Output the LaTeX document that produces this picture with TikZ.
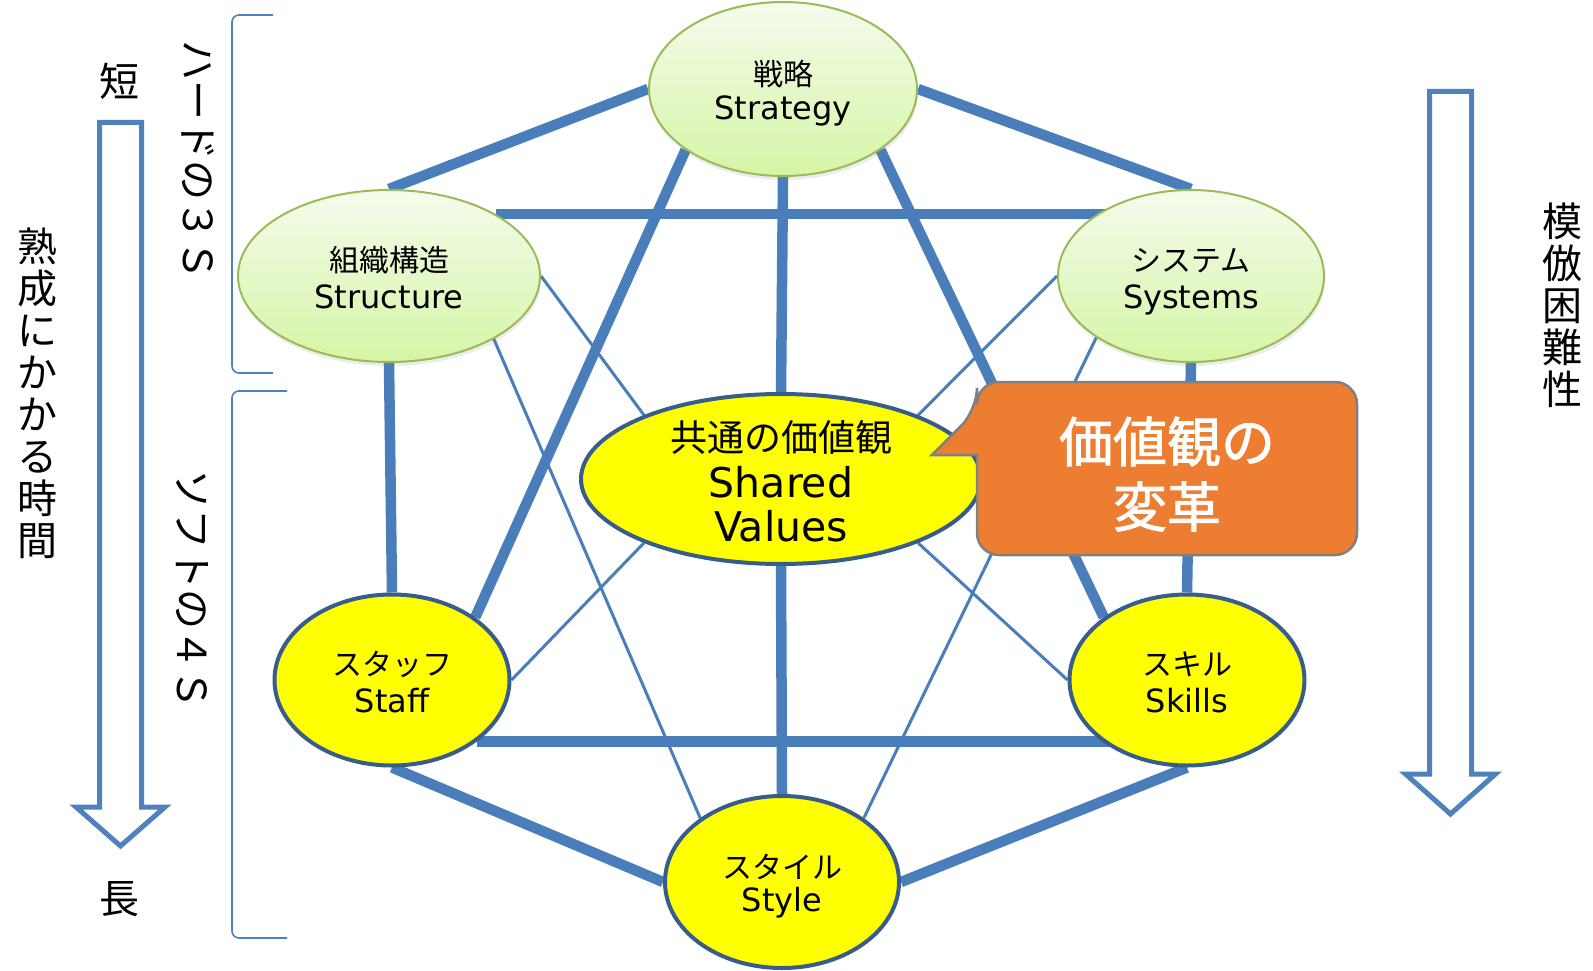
\documentclass[tikz,border=0pt]{standalone}
\usepackage{fontspec}
\setmainfont{DejaVu Sans}
\newfontfamily\jp{Noto Sans CJK JP}
\newfontfamily\jpheavy[FakeBold=1.6]{Noto Sans CJK JP}
\usetikzlibrary{shapes.geometric,shadows}
\pgfdeclarelayer{bg}
\pgfsetlayers{bg,main}
\definecolor{linkblue}{RGB}{74,126,187}
\definecolor{arrowblue}{RGB}{79,129,189}
\definecolor{hardedge}{RGB}{155,187,89}
\definecolor{hardtop}{RGB}{245,251,236}
\definecolor{hardbot}{RGB}{214,245,166}
\definecolor{softedge}{RGB}{56,93,138}
\definecolor{softfill}{RGB}{255,255,0}
\definecolor{calloutfill}{RGB}{237,125,49}
\definecolor{calloutedge}{RGB}{128,128,128}
\begin{document}
\begin{tikzpicture}[x=1pt,y=-1pt,
  hard/.style={ellipse, draw=hardedge, line width=2pt, top color=hardtop, bottom color=hardbot,
    inner sep=0pt, drop shadow={shadow xshift=1pt, shadow yshift=-4pt, opacity=0.15}},
  soft/.style={ellipse, draw=softedge, line width=4pt, fill=softfill, inner sep=0pt},
  jplbl/.style={anchor=base, inner sep=0pt, font=\jp\fontsize{30}{35}\selectfont},
  enlbl/.style={anchor=base, inner sep=0pt, font=\fontsize{32}{36}\selectfont},
  sidelbl/.style={inner sep=0pt, align=center, font=\jp\fontsize{40}{42}\selectfont},
  thicklink/.style={draw=linkblue, line width=10.5pt},
  thinlink/.style={draw=linkblue, line width=3pt},
  blockarrow/.style={draw=arrowblue, line width=5pt, fill=white, miter limit=10},
  bracket/.style={draw=arrowblue, line width=1.6pt, rounded corners=7pt},
  callout/.style={draw=calloutedge, line width=2.5pt, fill=calloutfill},
  callouttext/.style={anchor=base, inner sep=0pt, text=white, font=\jpheavy\fontsize{54}{60}\selectfont}
]
\useasboundingbox (0,0) rectangle (1593,971);

% the seven elements
\node[hard, minimum width=268pt, minimum height=174pt] (strategy) at (783,89) {};
\node[hard, minimum width=302pt, minimum height=172pt] (structure) at (389,276) {};
\node[hard, minimum width=266pt, minimum height=172pt] (systems) at (1191,276) {};
\node[soft, minimum width=400pt, minimum height=170pt] (shared) at (781,479) {};
\node[soft, minimum width=235pt, minimum height=171pt] (staff) at (392,680) {};
\node[soft, minimum width=235pt, minimum height=171pt] (skills) at (1187,680) {};
\node[soft, minimum width=234pt, minimum height=172pt] (style) at (782,882) {};

% element labels
\node[jplbl] (strategy-jp) at (783,86) {戦略};
\node[enlbl] (strategy-en) at (783,120) {Strategy};
\node[jplbl] (structure-jp) at (389,271) {組織構造};
\node[enlbl] (structure-en) at (389,308) {Structure};
\node[jplbl] (systems-jp) at (1191,271) {システム};
\node[enlbl] (systems-en) at (1191,308) {Systems};
\node[jplbl, font=\jp\fontsize{37}{40}\selectfont] (shared-jp) at (781,451) {共通の価値観};
\node[enlbl, font=\fontsize{41}{44}\selectfont] (shared-en1) at (781,497) {Shared};
\node[enlbl, font=\fontsize{41}{44}\selectfont] (shared-en2) at (781,541) {Values};
\node[jplbl] (staff-jp) at (392,675) {スタッフ};
\node[enlbl] (staff-en) at (392,712) {Staff};
\node[jplbl] (skills-jp) at (1187,675) {スキル};
\node[enlbl] (skills-en) at (1187,712) {Skills};
\node[jplbl] (style-jp) at (782,878) {スタイル};
\node[enlbl] (style-en) at (782,911) {Style};

% links between the elements
\begin{pgfonlayer}{bg}
  \draw[thicklink] (strategy.180) -- (structure.north);
  \draw[thicklink] (strategy.0) -- (systems.north);
  \draw[thicklink] (structure.30) -- (structure.30 -| systems.center);
  \draw[thicklink] (strategy.212) -- (staff.37);
  \draw[thicklink] (strategy.328) -- (skills.143);
  \draw[thicklink] (strategy.south) -- (shared.north);
  \draw[thicklink] (shared.south) -- (style.north);
  \draw[thicklink] (structure.south) -- (staff.north);
  \draw[thicklink] (systems.south) -- (skills.north);
  \draw[thicklink] (staff.324) -- (staff.324 -| skills.center);
  \draw[thicklink] (staff.south) -- (style.west);
  \draw[thicklink] (skills.south) -- (style.east);
  \draw[thinlink] (structure.east) -- (shared.155);
  \draw[thinlink] (structure.-31) -- (style.142);
  \draw[thinlink] (systems.west) -- (shared.25);
  \draw[thinlink] (systems.213) -- (style.38);
  \draw[thinlink] (staff.east) -- (shared.205);
  \draw[thinlink] (skills.west) -- (shared.335);
\end{pgfonlayer}

% speech bubble
\draw[callout] (977,480) [rounded corners=22pt] -- (977,555) -- (1357,555) -- (1357,382)
  -- (977,382) -- (977,410) [sharp corners] -- (932,455) -- (977,455) -- cycle;
\node[callouttext] (change1) at (1167,462) {価値観の};
\node[callouttext] (change2) at (1167,527) {変革};

% left side: time axis and brackets
\draw[blockarrow] (99.5,122.5) -- (141.5,122.5) -- (141.5,807) -- (165,807) -- (120.5,846)
  -- (76,807) -- (99.5,807) -- cycle;
\node[sidelbl] (short) at (119,81) {短};
\node[sidelbl] (long) at (119,899) {長};
\node[sidelbl] (maturing) at (37,393) {熟\\成\\に\\か\\か\\る\\時\\間};
\draw[bracket] (273,15) -- (232,15) -- (232,373) -- (273,373);
\draw[bracket] (287,391) -- (232,391) -- (232,938) -- (287,938);
\node[sidelbl, rotate=-90] (hard3s) at (198,161) {ハードの３Ｓ};
\node[sidelbl, rotate=-90] (soft4s) at (192,589) {ソフトの４Ｓ};

% right side: imitation difficulty
\draw[blockarrow] (1429.5,91.5) -- (1471.5,91.5) -- (1471.5,774) -- (1495.5,774) -- (1450.5,814)
  -- (1405.5,774) -- (1429.5,774) -- cycle;
\node[sidelbl] (imitation) at (1562,305) {模\\倣\\困\\難\\性};
\end{tikzpicture}
\end{document}
